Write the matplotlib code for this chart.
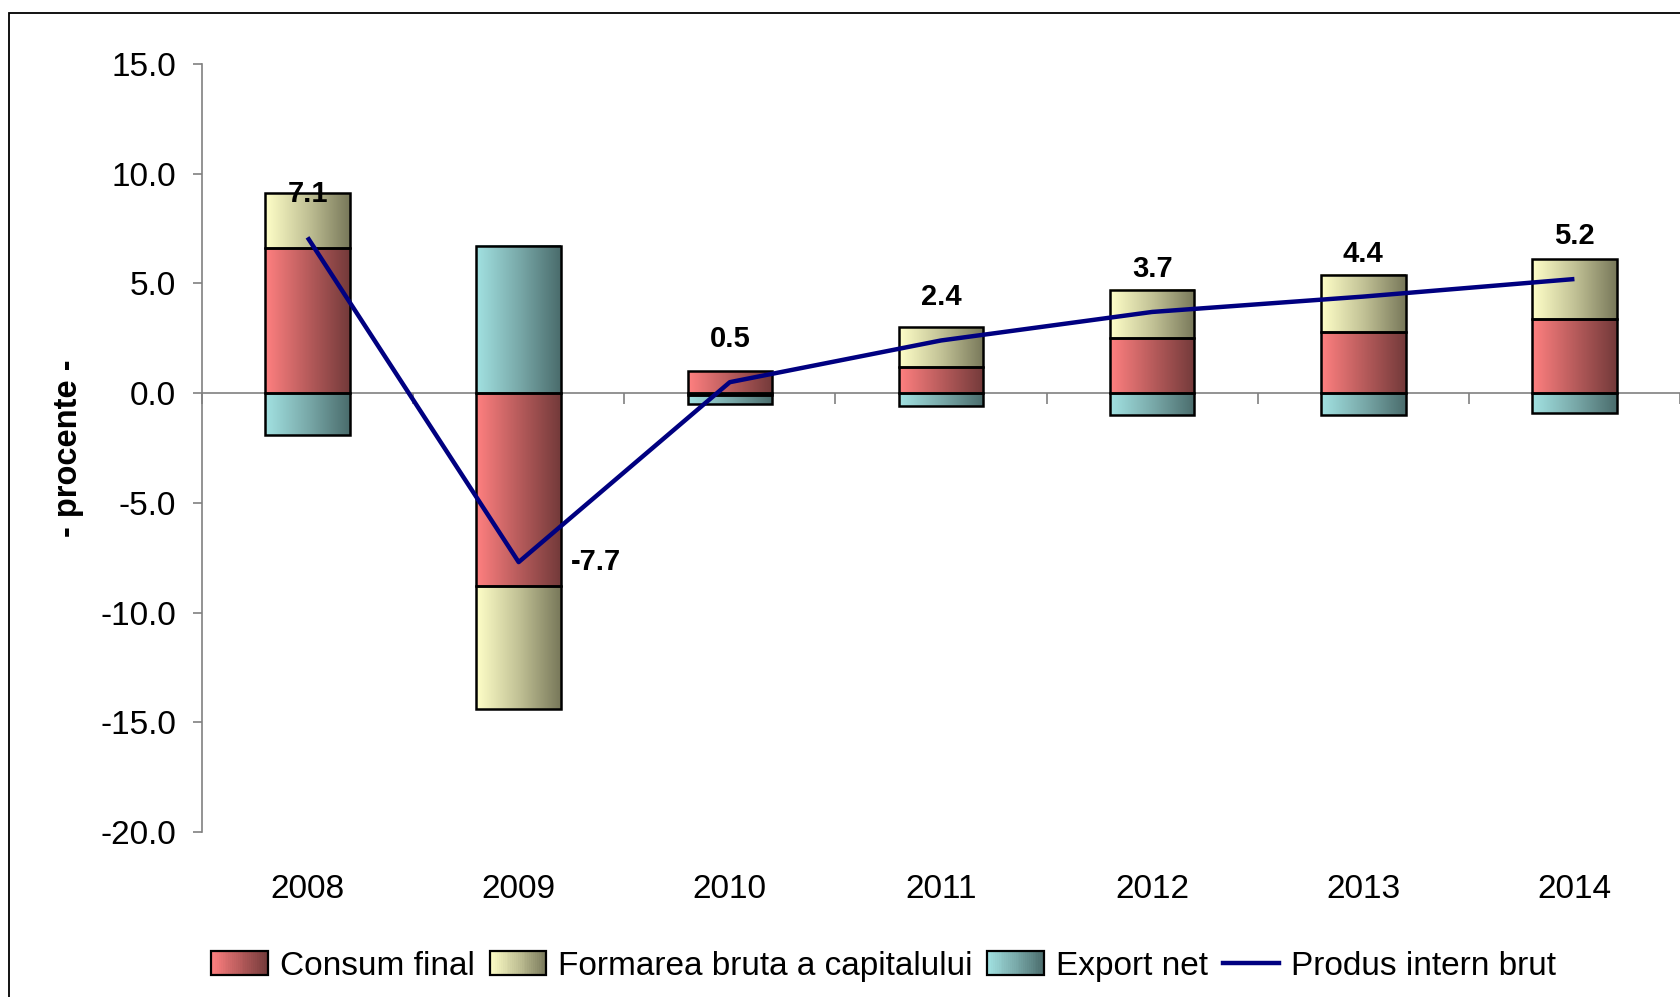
import matplotlib
matplotlib.use("Agg")
import matplotlib.pyplot as plt
import numpy as np
from matplotlib.colors import LinearSegmentedColormap
from matplotlib.legend_handler import HandlerBase
from matplotlib.patches import Rectangle, Patch
from matplotlib.lines import Line2D

plt.rcParams['font.family'] = ['Liberation Sans', 'DejaVu Sans']
plt.rcParams['axes.unicode_minus'] = False

years = ['2008', '2009', '2010', '2011', '2012', '2013', '2014']
consum = [6.6, -8.8, 1.0, 1.2, 2.5, 2.8, 3.4]
formarea = [2.5, -5.6, -0.1, 1.8, 2.2, 2.6, 2.7]
export_net = [-1.9, 6.7, -0.4, -0.6, -1.0, -1.0, -0.9]
pib = [7.1, -7.7, 0.5, 2.4, 3.7, 4.4, 5.2]

series_names = ['Consum final', 'Formarea bruta a capitalului', 'Export net']
line_name = 'Produs intern brut'

# gradient (light -> dark) for each series, like the Excel fill
cmaps = [
    LinearSegmentedColormap.from_list('c1', ['#FF8080', '#B85C5C', '#733A3A']),
    LinearSegmentedColormap.from_list('c2', ['#FFFFC8', '#C2C296', '#78785A']),
    LinearSegmentedColormap.from_list('c3', ['#A2E2E2', '#7AAAAA', '#4A6C6C']),
]

fig = plt.figure(figsize=(16.8, 9.97), dpi=100)
ax = fig.add_axes([0.1202, 0.1655, 0.8798, 0.7703])

x = np.arange(len(years))
width = 0.4
grad = np.linspace(0, 1, 256).reshape(1, -1)

pos = np.zeros(len(years))
neg = np.zeros(len(years))
for vals, cmap in zip([consum, formarea, export_net], cmaps):
    vals = np.array(vals)
    bottom = np.where(vals >= 0, pos, neg)
    bars = ax.bar(x, vals, width, bottom=bottom, facecolor='none',
                  edgecolor='black', linewidth=1.8, zorder=3)
    for r in bars:
        x0, y0 = r.get_x(), r.get_y()
        w, h = r.get_width(), r.get_height()
        ax.imshow(grad, cmap=cmap, extent=[x0, x0 + w, y0, y0 + h],
                  aspect='auto', interpolation='bilinear', zorder=2)
    pos = np.where(vals >= 0, pos + vals, pos)
    neg = np.where(vals < 0, neg + vals, neg)

ax.plot(x, pib, color='#000080', linewidth=3.2, zorder=4, solid_capstyle='butt')

for xi, v in zip(x, pib):
    if v < 0:
        off = (77, 0)
    else:
        off = (0, 43)
    ax.annotate(f'{v:.1f}', (xi, v), xytext=off, textcoords='offset pixels',
                ha='center', va='center', fontsize=21, fontweight='bold', zorder=5)

ax.set_xlim(-0.5, len(years) - 0.5)
ax.set_ylim(-20, 15)
ax.set_yticks(np.arange(-20, 16, 5))
ax.set_yticklabels([f'{t:.1f}' for t in np.arange(-20, 16, 5)])
ax.set_xticks(x)
ax.set_xticklabels(years)
ax.tick_params(axis='x', length=0, pad=30, labelsize=24)
ax.tick_params(axis='y', length=6.5, width=1.2, color='#808080', pad=12, labelsize=24)

for s in ['top', 'right', 'bottom']:
    ax.spines[s].set_visible(False)
ax.spines['left'].set_color('#808080')
ax.spines['left'].set_linewidth(1.2)

# category axis crossing at zero, ticks between categories
sec = ax.secondary_xaxis(20 / 35)
sec.set_alignment('bottom')
sec.set_xticks(np.arange(-0.5, len(years), 1))
sec.set_xticklabels([])
sec.tick_params(axis='x', direction='out', length=8, width=1.2, color='#808080')
sec.spines['bottom'].set_color('#808080')
sec.spines['bottom'].set_linewidth(1.2)

ax.set_ylabel('- procente -', fontsize=23.5, fontweight='bold')
ax.yaxis.set_label_coords(-0.080, 0.5)


class GradientHandler(HandlerBase):
    def __init__(self, cmap):
        super().__init__()
        self.cmap = cmap

    def create_artists(self, legend, orig_handle, xdescent, ydescent,
                       width, height, fontsize, trans):
        n = 30
        arts = []
        for i in range(n):
            arts.append(Rectangle((-xdescent + width * i / n, -ydescent), width / n, height,
                                  facecolor=self.cmap((i + 0.5) / n), edgecolor='none',
                                  transform=trans))
        arts.append(Rectangle((-xdescent, -ydescent), width, height, facecolor='none',
                              edgecolor='black', linewidth=1.6, transform=trans))
        return arts


handles = [Patch(label=n) for n in series_names]
line_h = Line2D([], [], color='#000080', linewidth=3.2, label=line_name)
hmap = {h: GradientHandler(c) for h, c in zip(handles, cmaps)}
fig.legend(handles + [line_h], series_names + [line_name], handler_map=hmap,
           loc='center', bbox_to_anchor=(0.526, 0.031), ncol=4, frameon=False,
           fontsize=24, handlelength=1.7, handleheight=0.75, handletextpad=0.35,
           columnspacing=0.45)

fig.patches.append(Rectangle((9 / 1680, -0.1), 1.2, 0.1 + 1 - 13 / 997,
                             transform=fig.transFigure, fill=False,
                             edgecolor='black', linewidth=1.3))

fig.savefig('out.png', dpi=100)
